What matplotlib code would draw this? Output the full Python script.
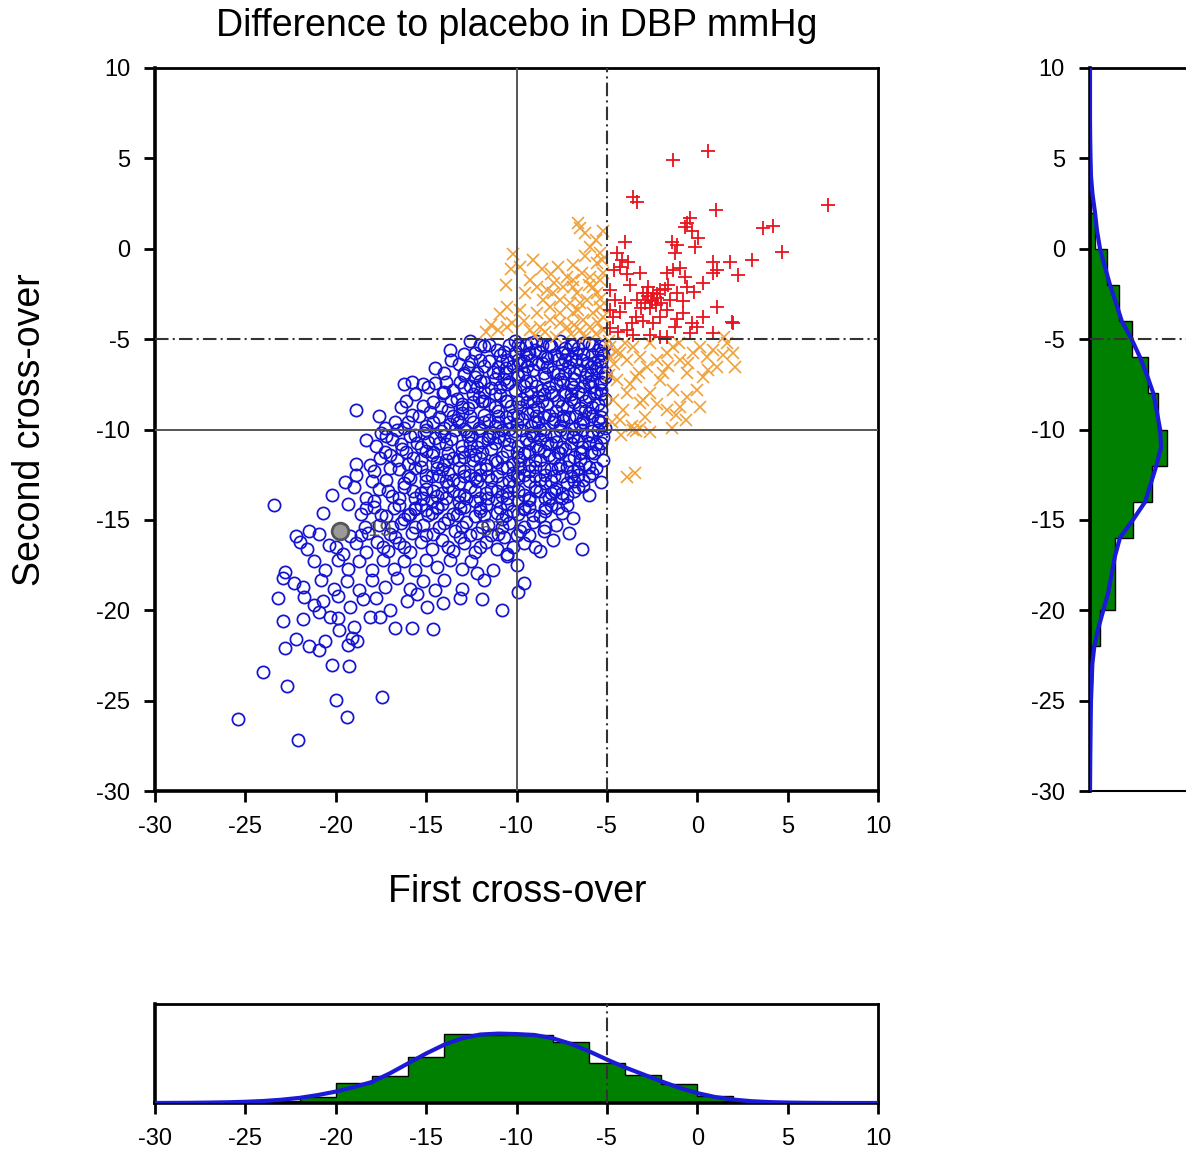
import matplotlib
matplotlib.use('Agg')
import matplotlib.pyplot as plt
import numpy as np

plt.rcParams['font.family'] = ['Liberation Sans', 'DejaVu Sans']
plt.rcParams['axes.unicode_minus'] = False

# --- data -------------------------------------------------------------
# blue: both cross-overs below -5 mmHg
blue_points = [
    # y -5 .. -6
    (-13.7, -5.6), (-12.6, -5.1), (-12.9, -5.8), (-11.1, -5.6), (-10.4, -5.3), (-9.8, -5.5),
    (-9.2, -5.2), (-8.7, -5.7), (-8.1, -5.4), (-7.6, -5.1), (-7.2, -5.8), (-6.6, -5.5),
    (-6.0, -5.2), (-5.5, -5.6), (-5.1, -5.3), (-9.5, -5.9), (-8.4, -5.95), (-6.9, -5.3),
    (-5.8, -5.9), (-10.9, -5.9), (-11.8, -5.4), (-7.9, -5.9), (-6.3, -5.8), (-5.2, -5.9),
    (-10.1, -5.1), (-8.9, -5.1),
    # y -6 .. -7
    (-14.5, -6.6), (-12.5, -6.2), (-11.8, -6.5), (-12.2, -6.9), (-10.8, -6.2), (-11.3, -6.8),
    (-10.2, -6.5), (-9.6, -6.2), (-9.1, -6.7), (-8.6, -6.3), (-8.0, -6.8), (-7.5, -6.4),
    (-7.0, -6.1), (-6.5, -6.7), (-6.1, -6.3), (-5.6, -6.6), (-5.1, -6.9), (-5.3, -6.2),
    (-10.0, -6.95), (-8.3, -6.05), (-6.8, -6.9), (-9.4, -6.5), (-7.7, -6.95), (-5.9, -6.95),
    (-13.2, -6.4), (-11.0, -6.9), (-12.9, -6.9),
    # y -7 .. -8
    (-16.2, -7.5), (-15.2, -7.5), (-14.5, -7.4), (-12.9, -7.0), (-13.5, -7.8), (-12.0, -7.3),
    (-11.4, -7.7), (-10.7, -7.2), (-10.1, -7.8), (-9.5, -7.3), (-8.9, -7.6), (-8.4, -7.1),
    (-7.8, -7.5), (-7.3, -7.9), (-6.8, -7.2), (-6.3, -7.6), (-5.8, -7.3), (-5.3, -7.8),
    (-5.1, -7.1), (-11.8, -7.95), (-9.9, -7.05), (-8.1, -7.95), (-6.6, -7.95), (-12.6, -7.6),
    (-9.2, -7.95), (-7.0, -7.5), (-5.6, -7.9), (-14.0, -7.9),
    # y -8 .. -9
    (-18.9, -8.9), (-16.1, -8.4), (-14.05, -8.0), (-15.2, -8.7), (-13.3, -8.3), (-12.7, -8.8),
    (-12.1, -8.2), (-11.5, -8.6), (-10.9, -8.1), (-10.3, -8.7), (-9.7, -8.3), (-9.1, -8.9),
    (-8.6, -8.4), (-8.0, -8.1), (-7.5, -8.7), (-7.0, -8.3), (-6.5, -8.8), (-6.0, -8.2),
    (-5.5, -8.6), (-5.1, -8.3), (-13.8, -8.9), (-11.0, -8.95), (-9.4, -8.5), (-7.8, -8.95),
    (-6.2, -8.95), (-12.4, -8.5), (-14.6, -8.5), (-8.3, -8.6), (-5.3, -8.9),
    # y -9 .. -10
    (-16.7, -9.6), (-17.3, -9.9), (-15.8, -9.2), (-15.0, -9.8), (-14.3, -9.3), (-13.7, -9.7),
    (-13.0, -9.1), (-12.4, -9.6), (-11.8, -9.2), (-11.2, -9.8), (-10.6, -9.3), (-10.0, -9.7),
    (-9.4, -9.1), (-8.8, -9.6), (-8.2, -9.2), (-7.6, -9.8), (-7.1, -9.3), (-6.5, -9.7),
    (-6.0, -9.1), (-5.5, -9.5), (-5.1, -9.9), (-12.9, -9.95), (-10.4, -9.95), (-8.5, -9.95),
    (-6.8, -9.95), (-14.8, -9.05), (-9.7, -9.4), (-11.5, -9.45), (-7.4, -9.5), (-16.2, -9.9),
    # y -10 .. -11
    (-18.3, -10.6), (-17.5, -10.2), (-16.4, -10.8), (-15.6, -10.3), (-14.9, -10.7), (-14.2, -10.1),
    (-13.6, -10.5), (-13.0, -10.9), (-12.5, -10.3), (-11.9, -10.7), (-11.3, -10.2), (-10.7, -10.6),
    (-10.1, -10.1), (-9.5, -10.5), (-8.9, -10.9), (-8.4, -10.3), (-7.8, -10.7), (-7.2, -10.2),
    (-6.6, -10.6), (-6.1, -10.3), (-5.6, -10.8), (-5.2, -10.4), (-12.2, -10.95), (-9.9, -10.9),
    (-7.5, -10.95), (-14.5, -10.45), (-11.0, -10.4), (-8.7, -10.5), (-6.4, -10.95), (-15.3, -10.95),
    (-16.9, -10.5), (-17.8, -10.9),
    # y -11 .. -12
    (-18.9, -11.9), (-18.1, -11.96), (-17.55, -11.6), (-16.35, -11.1), (-17.0, -11.4), (-15.7, -11.6),
    (-15.0, -11.2), (-14.4, -11.8), (-13.8, -11.3), (-13.2, -11.7), (-12.6, -11.2), (-12.0, -11.6),
    (-11.4, -11.1), (-10.8, -11.5), (-10.2, -11.9), (-9.6, -11.3), (-9.0, -11.7), (-8.5, -11.2),
    (-7.9, -11.6), (-7.3, -11.1), (-6.8, -11.5), (-6.2, -11.9), (-5.7, -11.3), (-5.2, -11.7),
    (-14.0, -11.95), (-11.7, -11.95), (-9.3, -11.95), (-7.6, -11.95), (-12.9, -11.5), (-10.5, -11.2),
    (-8.2, -11.4), (-16.0, -11.9),
    # y -12 .. -13
    (-18.9, -12.5), (-19.5, -12.9), (-17.9, -12.3), (-17.2, -12.8), (-16.5, -12.2), (-15.9, -12.7),
    (-15.3, -12.1), (-14.7, -12.6), (-14.1, -12.2), (-13.5, -12.8), (-12.9, -12.3), (-12.3, -12.7),
    (-11.7, -12.2), (-11.1, -12.6), (-10.5, -12.1), (-9.9, -12.7), (-9.3, -12.3), (-8.7, -12.8),
    (-8.1, -12.2), (-7.5, -12.6), (-6.9, -12.3), (-6.3, -12.8), (-5.8, -12.4), (-5.3, -12.9),
    (-13.2, -12.95), (-10.8, -12.95), (-8.4, -12.95), (-16.2, -12.95), (-12.0, -12.5), (-9.6, -12.5),
    (-7.2, -12.95), (-6.6, -12.5),
    # y -13 .. -14
    (-20.2, -13.6), (-19.0, -13.2), (-18.3, -13.8), (-17.6, -13.3), (-16.9, -13.7), (-16.2, -13.2),
    (-15.6, -13.8), (-15.0, -13.3), (-14.4, -13.7), (-13.8, -13.1), (-13.2, -13.6), (-12.6, -13.2),
    (-12.0, -13.8), (-11.4, -13.3), (-10.8, -13.7), (-10.2, -13.1), (-9.6, -13.6), (-9.0, -13.2),
    (-8.4, -13.8), (-7.8, -13.3), (-7.2, -13.7), (-6.6, -13.2), (-6.0, -13.6), (-14.7, -13.95),
    (-12.3, -13.95), (-9.9, -13.95), (-17.9, -13.95), (-11.7, -13.5), (-8.1, -13.5),
    # y -14 .. -15
    (-23.4, -14.2), (-20.7, -14.6), (-19.3, -14.1), (-18.6, -14.7), (-17.9, -14.3), (-17.2, -14.8),
    (-16.5, -14.2), (-15.9, -14.7), (-15.3, -14.2), (-14.7, -14.6), (-14.1, -14.1), (-13.5, -14.7),
    (-12.9, -14.3), (-12.3, -14.8), (-11.7, -14.2), (-11.1, -14.6), (-10.5, -14.1), (-9.9, -14.7),
    (-9.3, -14.3), (-8.7, -14.8), (-8.1, -14.2), (-7.5, -14.6), (-6.9, -14.9), (-13.8, -14.95),
    (-16.2, -14.95), (-10.8, -14.95), (-15.0, -14.45),
    # y -15 .. -16
    (-22.2, -15.9), (-21.5, -15.6), (-20.9, -15.8), (-18.4, -15.4), (-18.2, -15.7), (-17.6, -15.3),
    (-17.0, -15.8), (-16.4, -15.2), (-15.8, -15.7), (-15.2, -15.3), (-14.6, -15.8), (-14.0, -15.2),
    (-13.4, -15.6), (-12.8, -15.1), (-12.2, -15.7), (-11.6, -15.3), (-11.0, -15.8), (-10.4, -15.2),
    (-9.8, -15.6), (-9.1, -15.1), (-8.5, -15.6), (-7.8, -15.3), (-7.1, -15.7), (-13.1, -15.95),
    (-10.7, -15.95), (-16.7, -15.95), (-19.2, -15.9),
    # y -16 .. -17
    (-22.0, -16.2), (-21.6, -16.6), (-20.4, -16.4), (-19.6, -16.9), (-18.9, -16.3), (-18.3, -16.8),
    (-17.7, -16.2), (-17.1, -16.7), (-16.5, -16.3), (-15.9, -16.8), (-15.3, -16.2), (-14.7, -16.6),
    (-14.1, -16.1), (-13.5, -16.7), (-12.9, -16.3), (-12.3, -16.8), (-11.7, -16.2), (-11.1, -16.6),
    (-10.5, -16.9), (-9.6, -16.3), (-8.7, -16.7), (-6.4, -16.6), (-8.0, -16.1),
    # y -17 .. -18
    (-22.8, -17.9), (-21.2, -17.3), (-20.6, -17.8), (-19.9, -17.2), (-19.3, -17.7), (-18.7, -17.3),
    (-18.0, -17.8), (-17.4, -17.2), (-16.8, -17.7), (-16.2, -17.3), (-15.6, -17.8), (-15.0, -17.2),
    (-14.4, -17.6), (-13.7, -17.2), (-13.0, -17.7), (-12.2, -17.96), (-11.3, -17.8), (-10.5, -17.0),
    (-10.0, -17.5), (-12.5, -17.3),
    # y -18 .. -19
    (-22.9, -18.2), (-22.3, -18.5), (-21.8, -18.7), (-20.8, -18.3), (-20.1, -18.8), (-19.4, -18.4),
    (-18.7, -18.9), (-18.0, -18.3), (-17.3, -18.7), (-16.6, -18.2), (-15.9, -18.8), (-15.2, -18.4),
    (-14.5, -18.9), (-13.0, -18.8), (-11.8, -18.3), (-9.9, -19.0), (-9.6, -18.5), (-14.0, -18.3),
    # y -19 .. -20
    (-23.2, -19.3), (-21.75, -19.25), (-21.2, -19.7), (-20.7, -19.5), (-19.9, -19.2), (-19.2, -19.8),
    (-18.5, -19.4), (-17.0, -20.0), (-17.8, -19.3), (-16.07, -19.5), (-14.97, -19.8), (-14.05, -19.6),
    (-13.1, -19.3), (-11.9, -19.4), (-10.8, -20.0), (-15.5, -19.1),
    # y -20 .. -21
    (-22.9, -20.6), (-21.8, -20.5), (-20.3, -20.4), (-19.86, -20.45), (-19.8, -21.1), (-19.0, -20.9),
    (-18.1, -20.4), (-17.55, -20.35), (-16.7, -21.0), (-15.8, -20.96), (-14.6, -21.04), (-20.9, -20.1),
    # y -21 .. -23
    (-22.8, -22.1), (-22.2, -21.6), (-21.5, -21.96), (-20.9, -22.2), (-20.6, -21.7), (-19.3, -21.9),
    (-18.8, -21.7), (-19.1, -21.55), (-20.2, -23.03), (-19.27, -23.1),
    # far tail
    (-25.4, -26.0), (-22.1, -27.2), (-19.4, -25.9), (-20.0, -24.97), (-17.46, -24.8), (-24.0, -23.4),
    (-22.7, -24.2),
    # dense core
    (-5.4, -5.4), (-6.3, -5.2), (-7.3, -5.5), (-8.2, -5.3), (-9.0, -5.6), (-9.9, -5.3), (-10.7, -5.7),
    (-5.7, -6.3), (-6.7, -6.2), (-7.7, -6.1), (-8.8, -6.4), (-9.8, -6.3), (-10.6, -6.6), (-11.5, -6.2),
    (-5.4, -7.5), (-6.2, -7.1), (-7.6, -7.2), (-8.6, -7.8), (-9.6, -7.6), (-10.5, -7.5), (-11.2, -7.2),
    (-12.3, -7.1), (-5.7, -8.0), (-6.8, -8.5), (-7.3, -8.1), (-8.8, -8.2), (-9.9, -8.5), (-10.6, -8.4),
    (-11.8, -8.4), (-13.0, -8.6), (-5.3, -9.3), (-6.3, -9.4), (-7.9, -9.4), (-8.5, -9.3), (-9.2, -9.8),
    (-10.2, -9.2), (-11.0, -9.6), (-12.1, -9.9), (-13.3, -9.5), (-14.0, -9.9), (-5.8, -10.1),
    (-6.9, -10.4), (-8.1, -10.8), (-9.2, -10.2), (-10.4, -10.8), (-11.6, -10.5), (-12.8, -10.1),
    (-13.9, -10.8), (-15.1, -10.2), (-5.5, -11.1), (-6.5, -11.3), (-7.6, -11.3), (-8.8, -11.1),
    (-9.9, -11.5), (-11.1, -11.8), (-12.3, -11.4), (-13.5, -11.6), (-14.7, -11.4), (-6.0, -12.1),
    (-7.2, -12.1), (-8.4, -12.5), (-9.0, -12.1), (-10.2, -12.4), (-11.4, -12.8), (-12.6, -12.5),
    (-13.8, -12.4), (-15.0, -12.5), (-6.3, -13.1), (-7.5, -13.5), (-8.7, -13.4), (-9.3, -13.9),
    (-10.5, -13.4), (-11.1, -13.9), (-12.9, -13.6), (-14.1, -13.5), (-15.3, -13.5), (-7.2, -14.2),
    (-8.4, -14.5), (-9.6, -14.4), (-10.2, -14.5), (-12.0, -14.5), (-13.2, -14.0), (-14.4, -14.3),
    (-15.6, -14.4),
    # dense core, second layer
    (-12.0, -5.35), (-11.5, -5.35), (-9.5, -5.35), (-8.6, -5.35), (-7.0, -5.35), (-5.8, -5.35),
    (-12.3, -5.75), (-10.1, -5.75), (-9.3, -5.75), (-7.5, -5.75), (-6.7, -5.75), (-5.35, -5.75),
    (-13.6, -6.15), (-12.0, -6.15), (-10.5, -6.15), (-9.9, -6.15), (-9.2, -6.15), (-7.3, -6.15),
    (-6.4, -6.15), (-5.5, -6.15), (-12.7, -6.55), (-11.0, -6.55), (-8.3, -6.55), (-7.1, -6.55),
    (-5.9, -6.55), (-5.3, -6.55), (-14.0, -6.85), (-10.6, -6.85), (-9.6, -6.85), (-8.5, -6.85),
    (-7.3, -6.85), (-6.1, -6.85), (-15.8, -7.35), (-13.9, -7.35), (-13.1, -7.35), (-11.8, -7.35),
    (-10.4, -7.35), (-9.2, -7.35), (-7.4, -7.35), (-6.0, -7.35), (-5.3, -7.35), (-14.9, -7.65),
    (-12.9, -7.65), (-12.2, -7.65), (-10.9, -7.65), (-8.2, -7.65), (-6.9, -7.65), (-5.9, -7.65),
    (-15.6, -8.05), (-12.4, -8.05), (-11.2, -8.05), (-9.4, -8.05), (-8.5, -8.05), (-7.0, -8.05),
    (-6.4, -8.05), (-5.3, -8.05), (-13.6, -8.45), (-11.9, -8.45), (-10.5, -8.45), (-9.1, -8.45),
    (-7.7, -8.45), (-6.2, -8.45), (-16.4, -8.75), (-14.2, -8.75), (-13.0, -8.75), (-11.2, -8.75),
    (-9.8, -8.75), (-8.8, -8.75), (-7.2, -8.75), (-5.8, -8.75), (-17.6, -9.25), (-15.4, -9.25),
    (-13.5, -9.25), (-12.6, -9.25), (-11.0, -9.25), (-9.9, -9.25), (-8.9, -9.25), (-7.4, -9.25),
    (-6.7, -9.25), (-5.8, -9.25), (-16.0, -9.6), (-14.6, -9.6), (-13.2, -9.6), (-11.8, -9.6),
    (-10.4, -9.6), (-9.0, -9.6), (-8.0, -9.6), (-6.3, -9.6), (-5.4, -9.6), (-16.6, -10.05),
    (-15.0, -10.05), (-13.4, -10.05), (-12.0, -10.05), (-10.8, -10.05), (-9.7, -10.05), (-8.7, -10.05),
    (-7.6, -10.05), (-6.4, -10.05), (-5.5, -10.05), (-17.2, -10.35), (-15.9, -10.35), (-14.0, -10.35),
    (-12.7, -10.35), (-11.5, -10.35), (-10.3, -10.35), (-9.1, -10.35), (-7.9, -10.35), (-6.9, -10.35),
    (-5.8, -10.35), (-15.5, -10.75), (-14.3, -10.75), (-12.6, -10.75), (-11.2, -10.75), (-9.3, -10.75),
    (-8.3, -10.75), (-7.0, -10.75), (-6.0, -10.75), (-5.3, -10.75), (-17.3, -11.25), (-16.1, -11.25),
    (-14.6, -11.25), (-13.0, -11.25), (-11.9, -11.25), (-10.0, -11.25), (-9.3, -11.25), (-7.7, -11.25),
    (-6.4, -11.25), (-5.9, -11.25), (-16.6, -11.7), (-15.3, -11.7), (-13.9, -11.7), (-12.4, -11.7),
    (-11.2, -11.7), (-9.8, -11.7), (-8.7, -11.7), (-7.1, -11.7), (-6.5, -11.7), (-17.0, -12.15),
    (-15.6, -12.15), (-14.4, -12.15), (-13.2, -12.15), (-12.0, -12.15), (-10.8, -12.15), (-9.8, -12.15),
    (-8.5, -12.15), (-7.7, -12.15), (-6.6, -12.15), (-5.6, -12.15), (-16.0, -12.55), (-14.3, -12.55),
    (-12.9, -12.55), (-11.6, -12.55), (-10.0, -12.55), (-9.0, -12.55), (-7.9, -12.55), (-7.0, -12.55),
    (-6.0, -12.55), (-18.0, -12.85), (-15.0, -12.85), (-13.9, -12.85), (-12.2, -12.85), (-10.4, -12.85),
    (-9.3, -12.85), (-8.1, -12.85), (-6.8, -12.85), (-17.1, -13.4), (-15.7, -13.4), (-14.6, -13.4),
    (-13.5, -13.4), (-12.3, -13.4), (-11.1, -13.4), (-9.9, -13.4), (-8.9, -13.4), (-7.9, -13.4),
    (-6.8, -13.4), (-16.5, -13.8), (-15.2, -13.8), (-13.9, -13.8), (-12.8, -13.8), (-11.6, -13.8),
    (-10.5, -13.8), (-9.3, -13.8), (-8.2, -13.8), (-7.5, -13.8), (-18.3, -14.35), (-16.8, -14.35),
    (-15.6, -14.35), (-14.4, -14.35), (-13.1, -14.35), (-12.0, -14.35), (-10.9, -14.35), (-9.6, -14.35),
    (-8.4, -14.35), (-7.7, -14.35), (-17.5, -14.75), (-16.0, -14.75), (-14.9, -14.75), (-13.3, -14.75),
    (-11.8, -14.75), (-10.6, -14.75), (-9.1, -14.75), (-16.9, -15.4), (-15.6, -15.4), (-14.3, -15.4),
    (-13.0, -15.4), (-11.9, -15.4), (-10.8, -15.4), (-9.6, -15.4), (-8.4, -15.4), (-18.6, -15.85),
    (-15.0, -15.85), (-12.6, -15.85), (-11.4, -15.85), (-10.0, -15.85), (-9.3, -15.85), (-20.0, -16.5),
    (-17.4, -16.5), (-16.2, -16.5), (-13.8, -16.5), (-12.0, -16.5), (-10.2, -16.5), (-9.0, -16.5),
]

# orange: only one of the two cross-overs below -5 mmHg
orange_points = [
    (-6.58, 1.41), (-6.21, 0.85), (-6.49, 1.13), (-5.38, -0.25), (-5.29, -0.62), (-5.93, 0.11),
    (-5.56, -0.81), (-5.19, -1.36), (-5.38, -1.73), (-9.80, -1.0), (-9.25, -1.73), (-9.53, -2.47),
    (-8.88, -2.1), (-10.54, -3.2), (-9.80, -3.39), (-10.27, -4.13), (-10.3, -1.1), (-10.6, -2.0),
    (-10.9, -3.6), (-11.4, -4.2), (-11.7, -4.6), (-11.0, -4.5), (-10.54, -4.31),
    (-8.51, -2.84), (-7.96, -2.47), (-7.41, -2.10), (-6.85, -1.73), (-6.39, -1.36), (-5.93, -1.55),
    (-5.56, -2.47), (-5.38, -3.20), (-5.75, -3.57), (-6.30, -3.94), (-6.85, -3.57), (-7.59, -3.57),
    (-8.14, -3.94), (-8.70, -4.31), (-9.25, -4.50), (-7.22, -4.31), (-6.49, -4.50), (-5.93, -4.31),
    (-5.47, -4.13), (-5.19, -3.76), (-7.59, -2.84), (-7.04, -3.02), (-6.49, -3.02), (-6.12, -2.84),
    (-5.75, -2.10), (-6.67, -2.47), (-7.22, -1.55), (-8.14, -3.21), (-8.88, -3.57), (-8.33, -2.28),
    (-9.0, -4.8), (-8.4, -4.6), (-7.8, -4.9), (-7.0, -4.7), (-6.2, -4.9), (-5.6, -4.7), (-5.2, -4.5),
    (-7.6, -4.1), (-6.8, -4.2), (-9.6, -4.0), (-8.1, -1.4), (-7.7, -1.0), (-6.9, -0.9), (-6.2, -0.4),
    (-5.6, 0.5), (-5.2, 1.0), (-6.9, -2.1), (-7.9, -1.9), (-8.6, -1.1), (-9.1, -0.6), (-10.2, -0.3),
    (-6.0, -2.0), (-5.4, -2.8), (-6.6, -3.4),
    (-4.82, -5.42), (-4.27, -5.79), (-3.90, -6.16), (-3.53, -5.42), (-3.16, -5.97), (-2.80, -6.53),
    (-2.24, -6.16), (-1.69, -5.79), (-1.32, -5.42), (-0.95, -6.16), (-0.58, -6.89), (-0.22, -5.79),
    (0.15, -5.42), (0.52, -5.97), (0.89, -5.60), (1.63, -5.23), (2.0, -5.79), (2.09, -6.53),
    (1.08, -6.53), (0.34, -7.08), (-0.03, -7.82), (-0.58, -8.18), (-1.32, -7.82), (-2.06, -7.26),
    (-2.61, -8.0), (-3.16, -8.55), (-3.90, -8.0), (-4.45, -7.26), (-4.64, -8.37), (-4.09, -8.92),
    (-2.98, -8.37), (-1.69, -8.92), (-0.95, -8.74), (0.15, -8.74), (-4.6, -6.4), (-4.9, -7.0),
    (-3.4, -7.1), (-1.9, -6.9), (-4.3, -9.5), (-4.9, -5.1), (-4.5, -5.7), (-4.0, -5.2), (-3.2, -6.9),
    (-2.6, -5.2), (-1.6, -6.5), (-1.0, -5.2), (-0.5, -6.3), (0.6, -6.7), (1.4, -5.9), (-3.7, -7.5),
    (-4.8, -6.0), (-2.2, -8.6), (-1.2, -9.2), (-4.7, -9.6), (-4.2, -10.3), (-2.9, -9.3), (-0.6, -9.5),
    (1.5, -4.9),
    (-3.53, -10.03), (-3.16, -9.94), (-2.61, -10.12), (-1.41, -9.94), (-3.90, -12.61), (-3.44, -12.42),
    (-3.6, -9.8), (-3.4, -10.1),
]

# red: both cross-overs above -5 mmHg
red_points = [
    (-1.32, 4.91), (0.62, 5.43), (-3.53, 2.88), (-3.35, 2.60), (1.04, 2.14), (7.25, 2.42),
    (3.66, 1.13), (4.21, 1.26), (4.67, -0.16), (3.01, -0.62), (-0.58, 1.41), (-0.40, 1.68),
    (-0.68, 1.22), (-0.31, 1.0), (0.06, 0.58), (-0.12, 0.12), (-1.41, 0.39), (-1.14, 0.21),
    (-1.23, -0.25), (-3.99, 0.39), (-4.46, -0.25), (-4.18, -0.62), (-3.81, -0.71), (-4.27, -0.99),
    (0.89, -0.71), (1.08, -1.18), (1.81, -0.71), (2.27, -1.45), (0.89, -1.36), (-4.82, -2.28),
    (-4.55, -2.84), (-4.82, -3.39), (-4.27, -3.48), (-4.64, -3.76), (1.08, -3.20), (1.91, -4.03),
    (0.89, -4.68), (-3.17, -1.36), (-2.70, -2.10), (-2.43, -2.47), (-2.24, -2.74), (-2.52, -2.84),
    (-2.80, -2.47), (-2.06, -2.28), (-1.69, -1.36), (-1.32, -1.18), (-0.95, -1.08), (-0.68, -1.55),
    (-0.58, -2.10), (-1.14, -2.47), (-1.51, -2.84), (-1.69, -3.39), (-2.06, -3.76), (-2.43, -4.13),
    (-2.98, -2.47), (-3.35, -2.84), (-3.63, -4.13), (-3.90, -4.50), (-3.53, -4.77), (-2.61, -4.77),
    (-2.06, -4.86), (-1.69, -4.86), (-1.23, -4.31), (-0.77, -3.57), (-0.31, -4.13), (-0.40, -4.68),
    (0.34, -3.76), (2.0, -4.13), (-0.03, -4.31), (-2.5, -2.9), (-2.7, -2.6), (-2.3, -3.1),
    (-2.9, -3.0), (-2.6, -3.3), (-2.2, -2.5), (-3.1, -3.3), (-2.0, -3.0), (-1.8, -2.2),
    (-3.4, -3.8), (-3.0, -4.0), (-1.6, -2.0), (-4.0, -3.0), (-3.7, -2.0), (-3.9, -1.4),
    (-0.8, -2.9), (-1.1, -3.9), (0.3, -1.9), (-0.2, -2.4), (-4.6, -1.2), (-4.85, -4.4), (-4.4, -4.6),
]

highlight_point = (-19.77, -15.6)
point_labels = ['19', '57']
point_label_x = [-17.6, -11.4]
point_label_y = [-15.6, -15.6]

# marginal histograms (2 mmHg bins) and smoothed densities
bin_edges = np.arange(-24, 5, 2)
first_counts = [4, 13, 44, 59, 99, 150, 146, 146, 132, 86, 60, 42, 16, 4]
second_counts = [4, 21, 54, 54, 93, 132, 164, 146, 125, 89, 61, 36, 11, 2]

curve_grid = np.arange(-30, 11, 1)
first_curve = [0, 0.2, 0.4, 0.9, 1.5, 2.6, 4.3, 7.1, 11.1, 17.1, 24.6, 34.2, 45.4, 64.2,
               85.6, 107, 126, 140, 148, 150, 149, 147, 140, 128, 112, 94, 77, 62, 47, 33,
               21.4, 12.8, 7.3, 3.9, 1.9, 0.9, 0.4, 0.2, 0, 0, 0]
second_curve = [0, 0.3, 0.6, 1.1, 1.5, 2.1, 3.6, 4.9, 9.2, 17.8, 28.5, 39.2, 46.4, 53.5,
                64, 92, 118, 130, 142, 152, 150, 143, 135.5, 122, 107, 89, 68, 55.6, 42.8,
                32, 21.4, 15, 10.7, 5.4, 2.1, 1.1, 0.4, 0, 0, 0, 0]

ticks = [-30, -25, -20, -15, -10, -5, 0, 5, 10]
cutoff = -5
mean_line = -10

# --- layout -----------------------------------------------------------
W, H = 1186, 1157
fig = plt.figure(figsize=(W / 100, H / 100), dpi=100)
ax = fig.add_axes([155 / W, 1 - 791 / H, 723 / W, 723 / H])
axb = fig.add_axes([155 / W, 1 - 1103 / H, 723 / W, 99 / H])
axr = fig.add_axes([1090 / W, 1 - 791 / H, 100 / W, 723 / H])

dashdot = (0, (6.5, 2.0, 1.0, 2.0))


def style_axes(a, left=True, bottom=True):
    for side in ['top', 'right']:
        a.spines[side].set_linewidth(2.0)
    for side in ['left', 'bottom']:
        a.spines[side].set_linewidth(2.6)
    a.tick_params(axis='both', direction='out', length=8, width=2, labelsize=17,
                  top=False, right=False, left=left, bottom=bottom,
                  labelleft=left, labelbottom=bottom, pad=10)


# main scatter
bx, by = np.array(blue_points).T
ox, oy = np.array(orange_points).T
rx, ry = np.array(red_points).T

ax.plot(bx, by, 'o', mfc='none', mec='#1414d2', mew=1.25, ms=8.8, zorder=2)
ax.plot(ox, oy, 'x', color='#f0a13a', mew=1.2, ms=8.0, zorder=2)
ax.plot(rx, ry, '+', color='#e8141e', mew=1.3, ms=9.5, zorder=2)
ax.plot(*highlight_point, 'o', mfc='#9a9a9a', mec='#555555', mew=2.0, ms=12, zorder=3)

for lbl, lx, ly in zip(point_labels, point_label_x, point_label_y):
    ax.text(lx, ly, lbl, color='#4a4a4a', alpha=0.9, fontsize=16, ha='center', va='center',
            zorder=3)

ax.axvline(mean_line, color='#555555', lw=1.4, zorder=4)
ax.axhline(mean_line, color='#555555', lw=1.4, zorder=4)
ax.axvline(cutoff, color='#333333', lw=1.5, ls=dashdot, zorder=4)
ax.axhline(cutoff, color='#333333', lw=1.5, ls=dashdot, zorder=4)

ax.set_xlim(-30, 10)
ax.set_ylim(-30, 10)
ax.set_xticks(ticks)
ax.set_yticks(ticks)
style_axes(ax)

# bottom marginal: first cross-over
axb.stairs(first_counts, bin_edges, fill=True, color='#008000', zorder=1)
axb.stairs(first_counts, bin_edges, color='black', lw=1.0, zorder=2)
axb.plot(curve_grid, first_curve, color='#1a1ad8', lw=3, zorder=3)
axb.axvline(cutoff, color='#333333', lw=1.5, ls=dashdot, zorder=4)
axb.set_xlim(-30, 10)
axb.set_ylim(0, 214)
axb.set_xticks(ticks)
style_axes(axb, left=False, bottom=True)

# right marginal: second cross-over
axr.stairs(second_counts, bin_edges, fill=True, color='#008000', orientation='horizontal', zorder=1)
axr.stairs(second_counts, bin_edges, color='black', lw=1.0, orientation='horizontal', zorder=2)
axr.plot(second_curve, curve_grid, color='#1a1ad8', lw=3, zorder=3)
axr.axhline(cutoff, color='#333333', lw=1.5, ls=dashdot, zorder=4)
axr.set_ylim(-30, 10)
axr.set_xlim(0, 214)
axr.set_yticks(ticks)
style_axes(axr, left=True, bottom=False)
axr.spines['bottom'].set_linewidth(1.5)

fig.text(517 / W, 1 - 26 / H, 'Difference to placebo in DBP mmHg', fontsize=27,
         ha='center', va='center')
fig.text(517 / W, 1 - 892 / H, 'First cross-over', fontsize=27, ha='center', va='center')
fig.text(30 / W, 1 - 430 / H, 'Second cross-over', fontsize=27, ha='center', va='center',
         rotation=90)

fig.savefig('out.png', dpi=100)
